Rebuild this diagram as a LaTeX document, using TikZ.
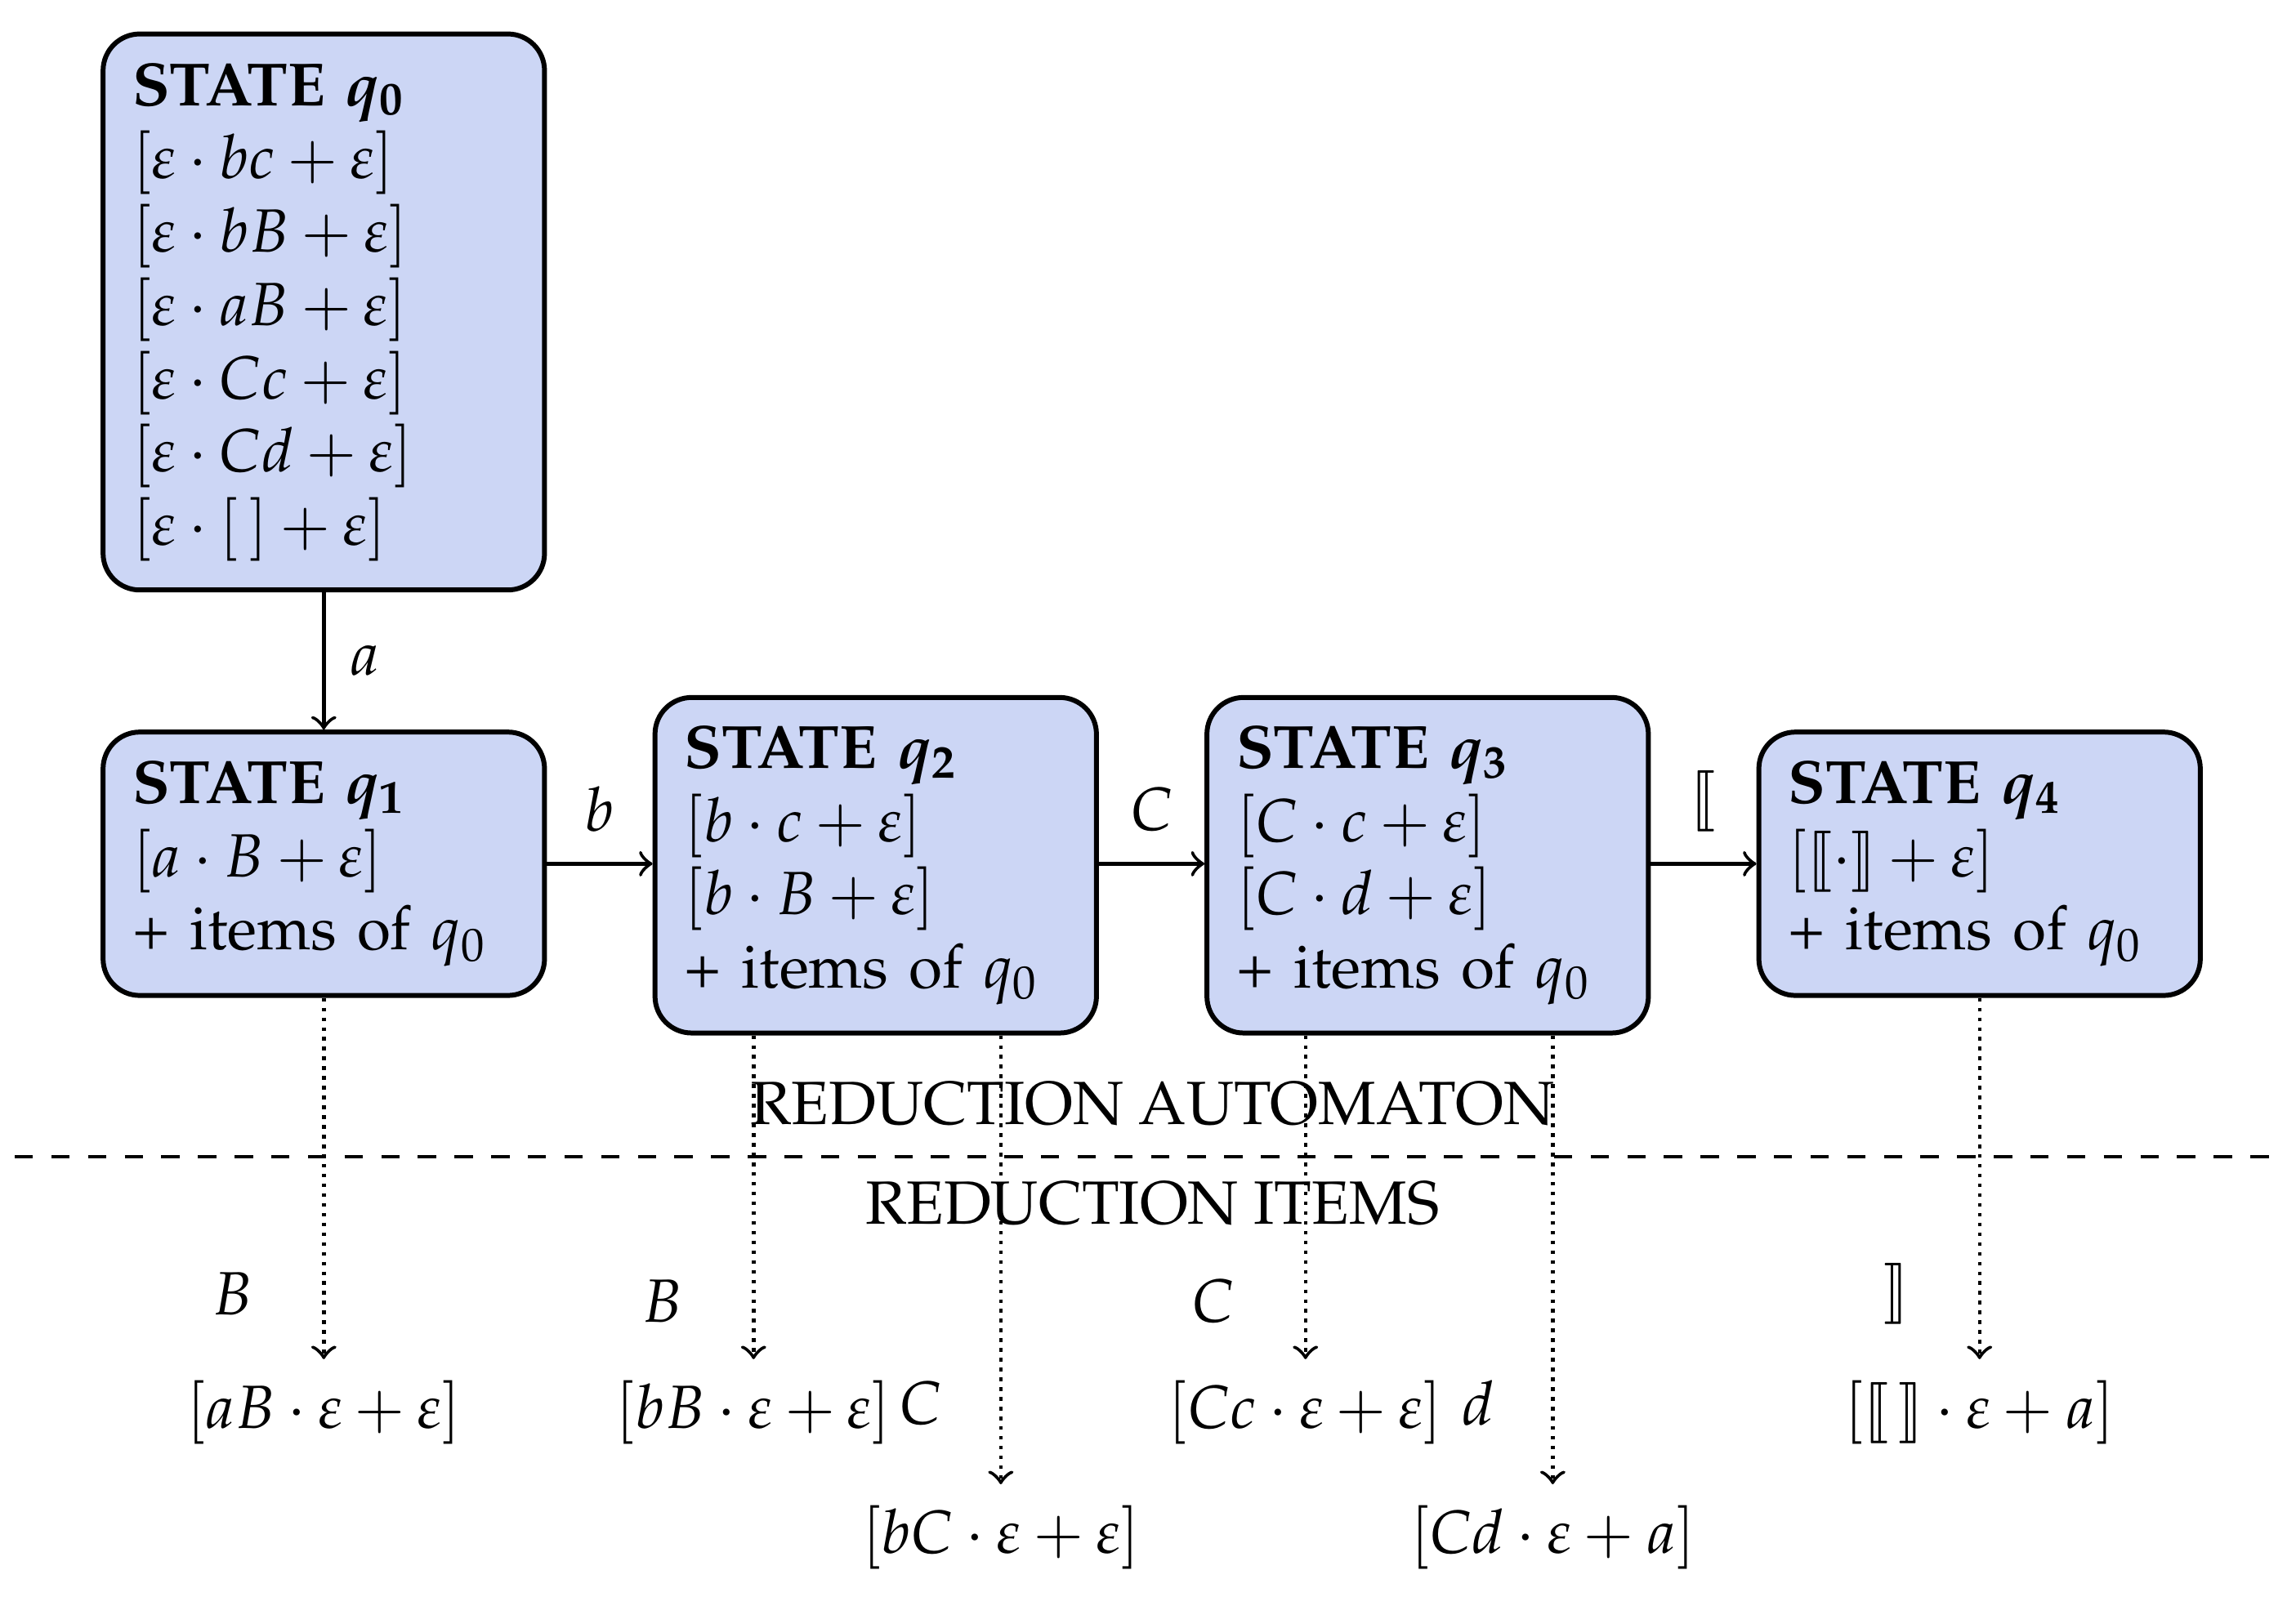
\documentclass[tikz,border=0pt]{standalone}
\usepackage[T1]{fontenc}
\usepackage{mathpazo}
\usepackage{amsmath,bm,stmaryrd}
\usetikzlibrary{positioning}
\definecolor{stfill}{RGB}{204,214,245}
\begin{document}
\begin{tikzpicture}
[x=0.00847cm,y=-0.00847cm,
state/.style={draw,thick,rounded corners=6pt,fill=stfill,text width=2.2cm,align=left,minimum width=2.54cm,inner xsep=0.15cm,inner ysep=0pt},
trans/.style={->,semithick},
reduce/.style={->,densely dotted,semithick},
lbl/.style={inner sep=1pt}]

\useasboundingbox (0,0) rectangle (1560,1085);

%the states
\node[state,minimum height=3.2cm] (q0) at (220,212) {\textbf{STATE $\bm{q_0}$}\\
$[\varepsilon\cdot bc+\varepsilon]$\\ $[\varepsilon\cdot bB+\varepsilon]$\\ $[\varepsilon\cdot aB+\varepsilon]$\\
$[\varepsilon\cdot Cc+\varepsilon]$\\ $[\varepsilon\cdot Cd+\varepsilon]$\\ $[\varepsilon\cdot [\,]+\varepsilon]$};
\node[state,minimum height=1.516cm] (q1) at (220,587) {\textbf{STATE $\bm{q_1}$}\\
$[a\cdot B+\varepsilon]$\\ + items of $q_0$};
\node[state,minimum height=1.931cm] (q2) at (595,588) {\textbf{STATE $\bm{q_2}$}\\
$[b\cdot c+\varepsilon]$\\ $[b\cdot B+\varepsilon]$\\ + items of $q_0$};
\node[state,minimum height=1.931cm] (q3) at (970,588) {\textbf{STATE $\bm{q_3}$}\\
$[C\cdot c+\varepsilon]$\\ $[C\cdot d+\varepsilon]$\\ + items of $q_0$};
\node[state,minimum height=1.516cm] (q4) at (1345,587) {\textbf{STATE $\bm{q_4}$}\\
$[\llbracket\cdot\rrbracket+\varepsilon]$\\ + items of $q_0$};

%transitions
\draw[trans] (q0) -- node[right,lbl,xshift=3pt]{$a$} (q1);
\draw[trans] (q1) -- node[above,lbl,yshift=4pt]{$b$} (q1-|q2.west);
\draw[trans] (q2.east|-q1) -- node[above,lbl,yshift=4pt]{$C$} (q1-|q3.west);
\draw[trans] (q3.east|-q1) -- node[above,lbl,yshift=4pt]{$\llbracket$} (q1-|q4.west);

%separator
\draw[dashed,semithick] (10,786) -- (1550,786);
\node (auto) at (783,750) {REDUCTION AUTOMATON};
\node (items) at (783,818) {REDUCTION ITEMS};

%reduction items
\node (r1) at (220,960) {$[aB\cdot\varepsilon+\varepsilon]$};
\node (r2) at (512,960) {$[bB\cdot\varepsilon+\varepsilon]$};
\node (r3) at (680,1045) {$[bC\cdot\varepsilon+\varepsilon]$};
\node (r4) at (887,960) {$[Cc\cdot\varepsilon+\varepsilon]$};
\node (r5) at (1055,1045) {$[Cd\cdot\varepsilon+a]$};
\node (r6) at (1345,960) {$[\llbracket\,\rrbracket\cdot\varepsilon+a]$};

\draw[reduce] (q1.south) -- node[left,pos=0.82,xshift=-8pt]{$B$} (r1.north);
\draw[reduce] (q2.south-|r2) -- node[left,pos=0.82,xshift=-8pt]{$B$} (r2.north);
\draw[reduce] (q2.south-|r3) -- node[left,pos=0.82,xshift=-6pt]{$C$} (r3.north);
\draw[reduce] (q3.south-|r4) -- node[left,pos=0.82,xshift=-8pt]{$C$} (r4.north);
\draw[reduce] (q3.south-|r5) -- node[left,pos=0.82,xshift=-6pt]{$d$} (r5.north);
\draw[reduce] (q4.south) -- node[left,pos=0.82,xshift=-8pt]{$\rrbracket$} (r6.north);

\end{tikzpicture}
\end{document}
